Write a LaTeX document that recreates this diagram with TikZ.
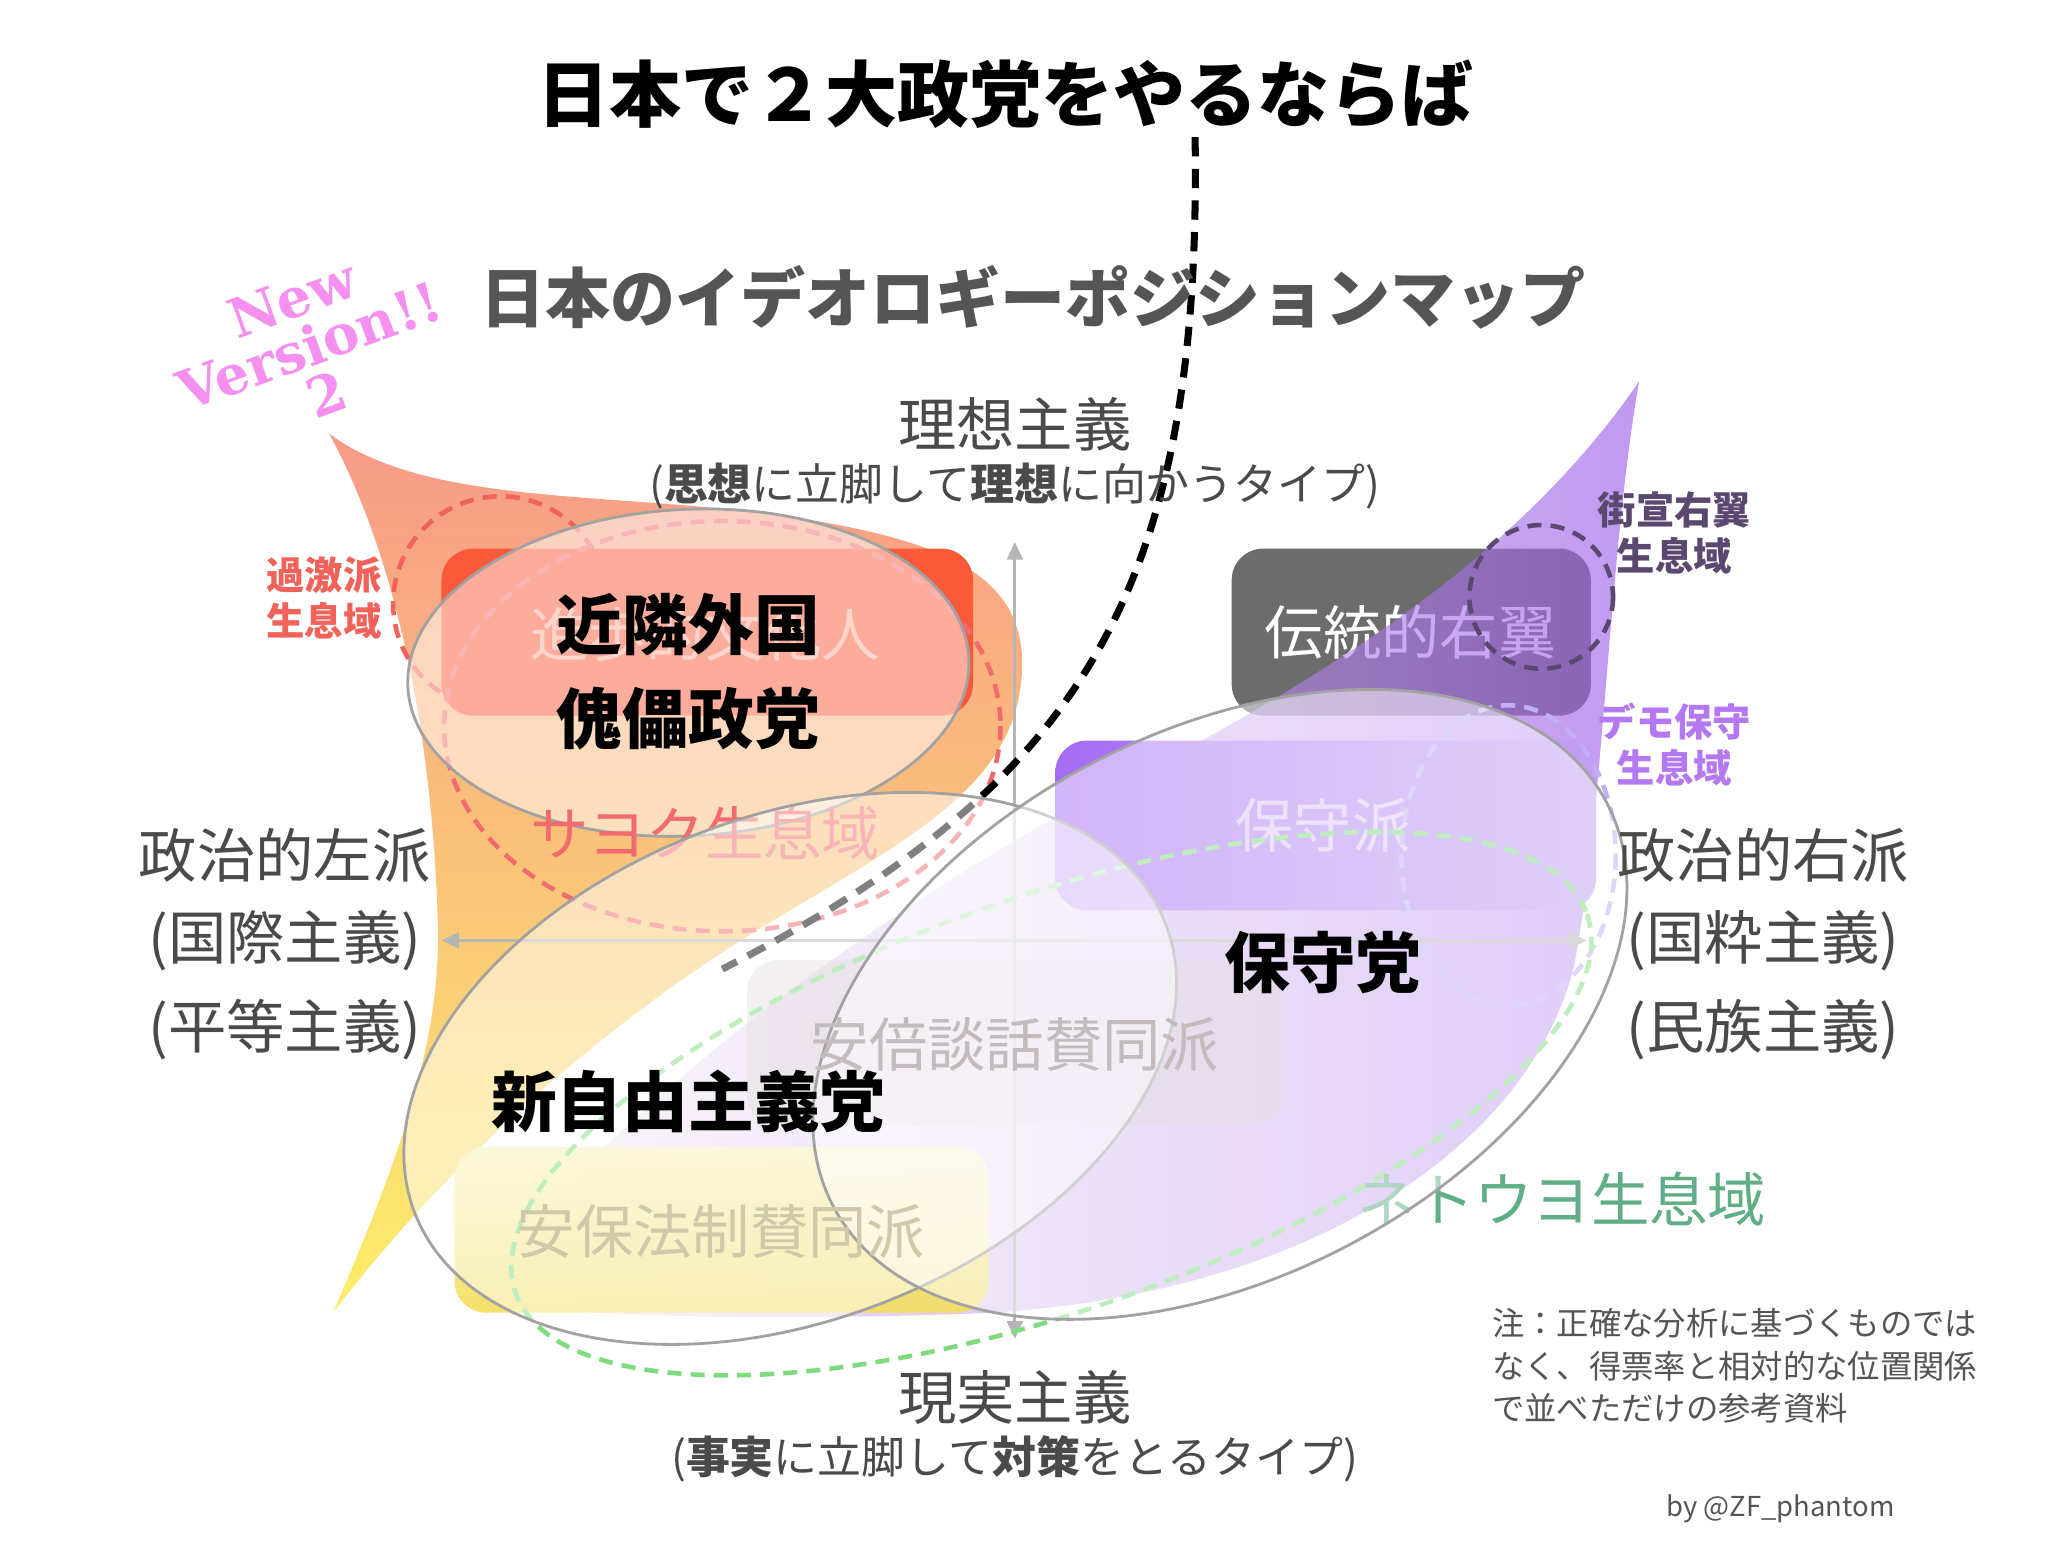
\documentclass[tikz,border=0pt]{standalone}
\usepackage{fontspec}
\setmainfont{Noto Sans CJK JP}
\newfontfamily\slabfont{DejaVu Serif}
\usetikzlibrary{arrows.meta}

\definecolor{axisgray}{HTML}{4A4A4A}
\definecolor{titlegray}{HTML}{555555}
\definecolor{axisline}{HTML}{B5B5B5}
\definecolor{bubblegray}{HTML}{A2A2A2}
\definecolor{leafred}{HTML}{F79A88}
\definecolor{leaforange}{HTML}{FBB27E}
\definecolor{leafyellow}{HTML}{FDEE6A}
\definecolor{leaflight}{HTML}{F4E8EE}
\definecolor{leafpurple}{HTML}{9A5CE8}
\definecolor{redbox}{HTML}{FB5A3A}
\definecolor{graybox}{HTML}{6C6C6C}
\definecolor{purpleboxL}{HTML}{A46CF4}
\definecolor{purpleboxR}{HTML}{C0A0F2}
\definecolor{abebox}{HTML}{C9BDC1}
\definecolor{abetext}{HTML}{C3BBBD}
\definecolor{anpotop}{HTML}{F8F1B0}
\definecolor{anpobottom}{HTML}{F3DE5C}
\definecolor{anpotext}{HTML}{D0C8A8}
\definecolor{kagekired}{HTML}{F0625A}
\definecolor{sayokured}{HTML}{F26A6E}
\definecolor{gaisenpurple}{HTML}{5A4870}
\definecolor{demolavender}{HTML}{C0AEF8}
\definecolor{demotext}{HTML}{B378F2}
\definecolor{netouyogreen}{HTML}{7EDC7E}
\definecolor{netouyotext}{HTML}{5FAE86}
\definecolor{versionpink}{HTML}{F590F0}

\begin{document}
\begin{tikzpicture}[x=0.013061cm, y=-0.013061cm, >={Triangle[length=5pt,width=4.5pt]},
    region/.style={rounded corners=9pt},
    bubble/.style={draw=bubblegray, line width=0.8pt, fill=white, fill opacity=0.5},
    habitat/.style={line width=1.3pt, dash pattern=on 4pt off 2.6pt},
    boundary/.style={line width=2pt, dash pattern=on 5.5pt off 3.5pt},
    axislabel/.style={text=axisgray, font=\fontsize{16.6}{20}\selectfont},
    sublabel/.style={text=axisgray, font=\fontsize{12.5}{15}\selectfont},
    boxlabel/.style={font=\fontsize{16.6}{20}\selectfont},
    partylabel/.style={font=\bfseries\fontsize{18.7}{26.8}\selectfont, align=center},
    smalllabel/.style={font=\bfseries\fontsize{10.9}{13}\selectfont, align=center}]

    % 画布
    \fill[white] (0,0) rectangle (1568,1181);
    \useasboundingbox (0,0) rectangle (1568,1181);

    % 定义坐标
    \coordinate (axtop) at (777,415);
    \coordinate (axbottom) at (777,1025);
    \coordinate (axleft) at (338,720);
    \coordinate (axright) at (1215,720);
    \coordinate (bstart) at (915,105);
    \coordinate (bend) at (553,742);

    % 伝統的右翼
    \fill[graybox, region] (943,420) rectangle (1218,548);
    \node[boxlabel, text=white] (dentou) at (1080,484) {伝統的右翼};

    % 左侧区域
    \shade[top color=leafred, middle color=leaforange, bottom color=leafyellow]
        (252,332) .. controls (330,390) and (480,375) .. (620,398)
        .. controls (720,415) and (790,440) .. (782,520)
        .. controls (775,600) and (700,640) .. (600,700)
        .. controls (480,770) and (350,880) .. (255,1005)
        .. controls (300,900) and (340,800) .. (335,700)
        .. controls (330,550) and (300,420) .. cycle;

    % 右侧区域
    \shade[left color=leaflight, right color=leafpurple, fill opacity=0.62]
        (1255,292) .. controls (1232,420) and (1228,620) .. (1205,740)
        .. controls (1170,880) and (1000,990) .. (760,1005)
        .. controls (600,1012) and (420,1008) .. (360,995)
        .. controls (460,860) and (620,735) .. (800,630)
        .. controls (1010,525) and (1160,430) .. cycle;

    % 過激派生息域
    \draw[habitat, draw=kagekired] (383,462) circle [radius=82];

    % 各派的方框
    \fill[redbox, region] (338,420) rectangle (745,548);
    \node[boxlabel, text=white, text opacity=0.5] (shinpo) at (540,486) {進歩的文化人};
    \shade[region, left color=purpleboxL, right color=purpleboxR] (808,567) rectangle (1222,697);
    \node[boxlabel, text=white, text opacity=0.55] (hoshuha) at (1013,632) {保守派};
    \fill[abebox, region, fill opacity=0.45] (572,735) rectangle (982,862);
    \shade[region, top color=anpotop, bottom color=anpobottom, fill opacity=0.9] (348,878) rectangle (757,1005);

    % 坐标轴
    \draw[axisline, line width=0.8pt, <->] (axtop) -- (axbottom);
    \draw[axisline, line width=0.8pt, <->] (axleft) -- (axright);

    % 生息域
    \draw[habitat, draw=sayokured] (553,556) ellipse [x radius=213, y radius=157];
    \draw[habitat, draw=gaisenpurple] (1180,457) circle [radius=55];
    \draw[habitat, draw=demolavender] (1155,655) ellipse [x radius=82, y radius=115];
    \draw[habitat, draw=netouyogreen, rotate around={19.5:(805,845)}] (805,845) ellipse [x radius=435, y radius=158];

    % 近隣外国傀儡政党
    \filldraw[bubble, rotate around={3:(527,515)}] (527,515) ellipse [x radius=215, y radius=125];
    \node[boxlabel, text=sayokured] (sayoku) at (540,638) {サヨク生息域};
    \node[boxlabel, text=netouyotext] (netouyo) at (1196,918) {ネトウヨ生息域};

    % 二大政党的分界线
    \draw[boundary] (bstart) .. controls (920,450) and (830,600) .. (bend);

    % 新自由主義党・保守党
    \filldraw[bubble, rotate around={21:(605,818)}] (605,818) ellipse [x radius=308, y radius=193];
    \filldraw[bubble, rotate around={27.5:(934,769)}] (934,769) ellipse [x radius=334, y radius=209];
    \node[boxlabel, text=abetext] (abe) at (777,800) {安倍談話賛同派};
    \node[boxlabel, text=anpotext] (anpo) at (552,943) {安保法制賛同派};

    \node[partylabel] (kairai) at (527,514) {近隣外国\\傀儡政党};
    \node[partylabel] (shinjiyu) at (527,843) {新自由主義党};
    \node[partylabel] (hoshuto) at (1013,737) {保守党};

    % 标题
    \node[font=\bfseries\fontsize{20.5}{24}\selectfont] (title) at (770,72) {日本で２大政党をやるならば};
    \node[text=titlegray, font=\bfseries\fontsize{18.5}{22}\selectfont] (subtitle) at (791,228) {日本のイデオロギーポジションマップ};
    \node[rotate=20, align=center, text=versionpink, font=\slabfont\bfseries\fontsize{15.5}{14.5}\selectfont] (newver) at (237,265) {New\\Version!!\\2};

    % 轴标签
    \node[axislabel] (ideal) at (777,325) {理想主義};
    \node[sublabel] (idealsub) at (777,372) {(\textbf{思想}に立脚して\textbf{理想}に向かうタイプ)};
    \node[axislabel] (real) at (777,1070) {現実主義};
    \node[sublabel] (realsub) at (777,1117) {(\textbf{事実}に立脚して\textbf{対策}をとるタイプ)};
    \node[axislabel] (lefta) at (218,655) {政治的左派};
    \node[axislabel] (leftb) at (218,720) {(国際主義)};
    \node[axislabel] (leftc) at (218,788) {(平等主義)};
    \node[axislabel] (righta) at (1350,655) {政治的右派};
    \node[axislabel] (rightb) at (1350,720) {(国粋主義)};
    \node[axislabel] (rightc) at (1350,788) {(民族主義)};

    % 小标签
    \node[smalllabel, text=kagekired] (kageki) at (248,458) {過激派\\生息域};
    \node[smalllabel, text=gaisenpurple] (gaisen) at (1282,408) {街宣右翼\\生息域};
    \node[smalllabel, text=demotext] (demo) at (1282,570) {デモ保守\\生息域};

    % 注释
    \node[anchor=west, align=left, text=titlegray, font=\fontsize{9.2}{12.1}\selectfont] (note) at (1133,1046)
        {注：正確な分析に基づくものでは\\なく、得票率と相対的な位置関係\\で並べただけの参考資料};
    \node[anchor=east, text=titlegray, font=\fontsize{7.8}{10}\selectfont] (credit) at (1460,1155) {by @ZF\_phantom};
\end{tikzpicture}
\end{document}
